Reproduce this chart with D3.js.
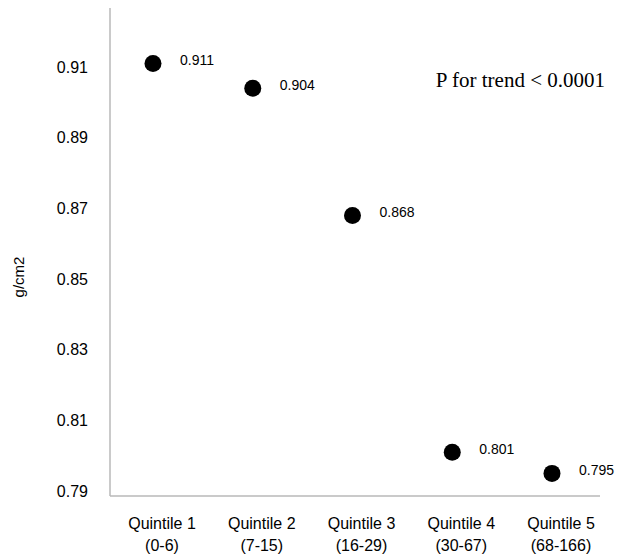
<!DOCTYPE html>
<html>
<head>
<meta charset="utf-8">
<script src="https://d3js.org/d3.v7.min.js"></script>
<style>
  body { margin: 0; background: #fff; }
  svg text { font-family: "Liberation Sans", Arial, sans-serif; fill: #000; }
</style>
</head>
<body>
<svg width="622" height="559"></svg>
<script>

// Chart data
var categories = ['Quintile 1', 'Quintile 2', 'Quintile 3', 'Quintile 4', 'Quintile 5'];
var ranges = ['(0-6)', '(7-15)', '(16-29)', '(30-67)', '(68-166)'];
var values = [0.911, 0.904, 0.868, 0.801, 0.795];
var yTicks = [0.79, 0.81, 0.83, 0.85, 0.87, 0.89, 0.91];

var svg = d3.select('svg');

var plotLeft = 110, plotTop = 8, plotBottom = 496;

var x = d3.scalePoint()
  .domain(categories)
  .range([153, 552]);

var y = d3.scaleLinear()
  .domain([0.7886, 0.9267])
  .range([plotBottom, plotTop]);

// axis lines (light gray)
svg.append('line')
  .attr('x1', plotLeft).attr('x2', plotLeft)
  .attr('y1', plotTop).attr('y2', plotBottom)
  .style('stroke', '#b8b8b8')
  .style('stroke-width', 1.5);

svg.append('line')
  .attr('x1', plotLeft).attr('x2', 600)
  .attr('y1', plotBottom).attr('y2', plotBottom)
  .style('stroke', '#b8b8b8')
  .style('stroke-width', 1.5);

// y tick labels
svg.selectAll('.ytick')
  .data(yTicks)
  .enter().append('text')
  .attr('class', 'ytick')
  .attr('x', 88)
  .attr('y', function(d) { return y(d); })
  .attr('dy', '0.35em')
  .attr('text-anchor', 'end')
  .style('font-size', '16px')
  .text(function(d) { return d3.format('.2f')(d); });

// y title
svg.append('text')
  .attr('transform', 'translate(24,277) rotate(-90)')
  .attr('text-anchor', 'middle')
  .style('font-size', '15px')
  .text('g/cm2');

// x category labels
var xl = svg.selectAll('.xlab')
  .data(categories)
  .enter().append('text')
  .attr('class', 'xlab')
  .attr('text-anchor', 'middle')
  .style('font-size', '16px');

xl.append('tspan')
  .attr('x', function(d) { return x(d) + 9; })
  .attr('y', 529)
  .text(function(d) { return d; });

xl.append('tspan')
  .attr('x', function(d) { return x(d) + 9; })
  .attr('y', 551)
  .text(function(d, i) { return ranges[i]; });

// points
svg.selectAll('circle')
  .data(values)
  .enter().append('circle')
  .attr('cx', function(d, i) { return x(categories[i]); })
  .attr('cy', function(d) { return y(d); })
  .attr('r', 8.5)
  .style('fill', '#000');

// data labels
svg.selectAll('.vlab')
  .data(values)
  .enter().append('text')
  .attr('class', 'vlab')
  .attr('x', function(d, i) { return x(categories[i]) + 27; })
  .attr('y', function(d) { return y(d) - 3; })
  .attr('dy', '0.35em')
  .style('font-size', '14px')
  .text(function(d) { return d3.format('.3f')(d); });

// trend annotation
svg.append('text')
  .attr('x', 605)
  .attr('y', 87)
  .attr('text-anchor', 'end')
  .style('font-family', '"Liberation Serif", "Times New Roman", serif')
  .style('font-size', '21px')
  .text('P for trend < 0.0001');

</script>
</body>
</html>
